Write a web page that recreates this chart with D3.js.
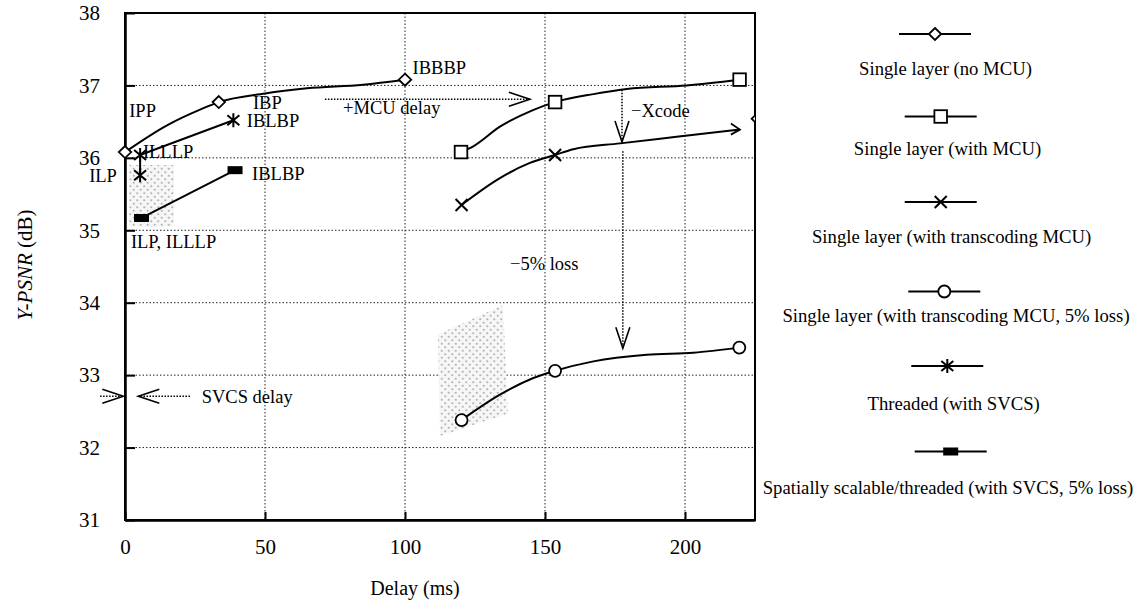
<!DOCTYPE html>
<html>
<head>
<meta charset="utf-8">
<script src="https://cdn.jsdelivr.net/npm/d3@7"></script>
<style>
  body { margin: 0; background: #fff; }
  svg text { font-family: "Liberation Serif", "Times New Roman", serif; fill: #000; }
</style>
</head>
<body>
<div id="chart"></div>
<script>
// delay (ms), Y-PSNR (dB)
var noMcuLine = [[0, 36.08], [15, 36.45], [27, 36.67], [33.5, 36.77], [50, 36.89], [65, 36.96], [85, 37.01], [100, 37.08]];
var noMcuMarks = [[0, 36.08], [33.5, 36.77], [100, 37.08]];
var strayDiamond = [[226, 36.54]];

var mcuLine = [[120, 36.08], [124.4, 36.16], [133.9, 36.43], [145.7, 36.66], [153.6, 36.77], [167.3, 36.88], [179.2, 36.95], [200.6, 37.0], [219.5, 37.08]];
var mcuMarks = [[120, 36.08], [153.6, 36.77], [219.5, 37.08]];

var xcodeLine = [[120.2, 35.35], [133.9, 35.72], [144.6, 35.93], [153.6, 36.04], [160.1, 36.12], [176.8, 36.2], [197, 36.29], [219.6, 36.39]];
var xcodeMarks = [[120.2, 35.35], [153.6, 36.04]];
var xcodeEnd = [[219.6, 36.39]];

var lossLine = [[120.2, 32.38], [133.9, 32.73], [144.6, 32.94], [153.6, 33.06], [167.3, 33.19], [186.3, 33.28], [203, 33.31], [219.4, 33.38]];
var lossMarks = [[120.2, 32.38], [153.6, 33.06], [219.4, 33.38]];

var threadLine = [[5.4, 35.76], [5.4, 36.04], [38.7, 36.52]];
var svcsLossLine = [[5.9, 35.17], [39.3, 35.83]];

var shadeLeft = [[1.5, 35.9], [17.5, 35.9], [17.5, 35.05], [1.5, 35.05]];
var shadeRight = [[111.8, 33.56], [135, 33.97], [136.8, 32.47], [112.5, 32.16]];

var xTicks = [0, 50, 100, 150, 200];
var yTicks = [31, 32, 33, 34, 35, 36, 37, 38];

var legendNames = [
  "Single layer (no MCU)",
  "Single layer (with MCU)",
  "Single layer (with transcoding MCU)",
  "Single layer (with transcoding MCU, 5% loss)",
  "Threaded (with SVCS)",
  "Spatially scalable/threaded (with SVCS, 5% loss)"
];
var legendShapes = ["diamond", "square", "cross", "circle", "asterisk", "bar"];

var notes = [
  ["IPP", 1.5, 36.66, "start"],
  ["IBP", 45.7, 36.76, "start"],
  ["IBBBP", 102.7, 37.25, "start"],
  ["IBLBP", 43.5, 36.51, "start"],
  ["ILLLP", 6.4, 36.09, "start"],
  ["ILP", -2.9, 35.75, "end"],
  ["IBLBP", 45.4, 35.79, "start"],
  ["ILP, ILLLP", 2.1, 34.84, "start"],
  ["+MCU delay", 77.9, 36.69, "start"],
  ["\u2212Xcode", 180.7, 36.66, "start"],
  ["\u22125% loss", 137.5, 34.54, "start"],
  ["SVCS delay", 27.4, 32.71, "start"]
];

var arrows = [
  [71.4, 36.81, 144.6, 36.81],
  [177.5, 36.94, 177.5, 36.22],
  [177.8, 36.09, 177.8, 33.37],
  [23.2, 32.71, 4.75, 32.71],
  [-8.9, 32.71, -0.6, 32.71]
];

var svgWidth = 1141;
var svgHeight = 602;
var margin = {top: 13, right: 386, bottom: 82, left: 125};
var width = svgWidth - margin.left - margin.right;
var height = svgHeight - margin.top - margin.bottom;

var svg = d3.select("#chart")
  .append("svg")
  .attr("width", svgWidth)
  .attr("height", svgHeight);

var defs = svg.append("defs");
var pat = defs.append("pattern")
  .attr("id", "dots")
  .attr("patternUnits", "userSpaceOnUse")
  .attr("width", 7)
  .attr("height", 7);
pat.append("rect").attr("width", 7).attr("height", 7).attr("fill", "#f6f6f6");
pat.append("circle").attr("cx", 1.75).attr("cy", 1.75).attr("r", 1.1).attr("fill", "#b4b4b4");
pat.append("circle").attr("cx", 5.25).attr("cy", 5.25).attr("r", 1.1).attr("fill", "#b4b4b4");

defs.append("clipPath").attr("id", "plotClip")
  .append("rect").attr("width", width).attr("height", height);

var chartGroup = svg.append("g")
  .attr("transform", `translate(${margin.left}, ${margin.top})`);

var x = d3.scaleLinear().domain([0, 225]).range([0, width]);
var y = d3.scaleLinear().domain([31, 38]).range([height, 0]);

// grid
chartGroup.selectAll(".vgrid")
  .data(xTicks.filter(d => d > 0))
  .enter()
  .append("line")
  .attr("x1", d => x(d)).attr("x2", d => x(d))
  .attr("y1", 0).attr("y2", height)
  .attr("stroke", "#222").attr("stroke-width", 1)
  .attr("stroke-dasharray", "1.5,2");

chartGroup.selectAll(".hgrid")
  .data(yTicks.filter(d => d > 31 && d < 38))
  .enter()
  .append("line")
  .attr("x1", 0).attr("x2", width)
  .attr("y1", d => y(d)).attr("y2", d => y(d))
  .attr("stroke", "#222").attr("stroke-width", 1)
  .attr("stroke-dasharray", "1.5,2");

// shaded regions
var poly = d3.line().x(d => x(d[0])).y(d => y(d[1]));
chartGroup.append("path").attr("d", poly(shadeLeft) + "Z").attr("fill", "url(#dots)");
chartGroup.append("path").attr("d", poly(shadeRight) + "Z").attr("fill", "url(#dots)");

// axes
var bottomAxis = d3.axisBottom(x).tickValues(xTicks).tickFormat(d3.format("d"))
  .tickSizeInner(-8).tickSizeOuter(0).tickPadding(19);
var leftAxis = d3.axisLeft(y).tickValues(yTicks).tickFormat(d3.format("d"))
  .tickSizeInner(-10).tickSizeOuter(0).tickPadding(25);

var xAxis = chartGroup.append("g")
  .attr("transform", `translate(0, ${height})`)
  .call(bottomAxis);
var yAxis = chartGroup.append("g").call(leftAxis);

[xAxis, yAxis].forEach(function(a) {
  a.attr("font-family", "Liberation Serif, Times New Roman, serif").attr("font-size", 21);
  a.select(".domain").attr("stroke", "#000").attr("stroke-width", 2.5);
  a.selectAll(".tick line").attr("stroke", "#000").attr("stroke-width", 2);
  a.selectAll(".tick text").attr("fill", "#000");
});

chartGroup.append("rect")
  .attr("width", width).attr("height", height)
  .attr("fill", "none").attr("stroke", "#000").attr("stroke-width", 2);

// markers
function marker(g, shape, cx, cy) {
  var m = g.append("g").attr("transform", `translate(${cx}, ${cy})`);
  if (shape === "diamond") {
    m.append("path").attr("d", "M0,-6L6.2,0L0,6L-6.2,0Z")
      .attr("fill", "#fff").attr("stroke", "#000").attr("stroke-width", 1.8);
  } else if (shape === "square") {
    m.append("rect").attr("x", -6.3).attr("y", -6.3).attr("width", 12.6).attr("height", 12.6)
      .attr("fill", "#fff").attr("stroke", "#000").attr("stroke-width", 1.8);
  } else if (shape === "circle") {
    m.append("circle").attr("r", 6)
      .attr("fill", "#fff").attr("stroke", "#000").attr("stroke-width", 1.8);
  } else if (shape === "cross") {
    m.append("path").attr("d", "M-6,-6L6,6M-6,6L6,-6")
      .attr("stroke", "#000").attr("stroke-width", 2);
  } else if (shape === "asterisk") {
    m.append("path").attr("d", "M-6,-5L6,5M-6,5L6,-5M0,-7L0,7")
      .attr("stroke", "#000").attr("stroke-width", 2);
  } else if (shape === "bar") {
    m.append("rect").attr("x", -7.5).attr("y", -4).attr("width", 15).attr("height", 8)
      .attr("fill", "#000");
  } else if (shape === "head") {
    m.append("path").attr("d", "M-9,-6L0,0L-9,5")
      .attr("fill", "none").attr("stroke", "#000").attr("stroke-width", 1.8);
  }
  return m;
}

var curve = d3.line()
  .x(d => x(d[0]))
  .y(d => y(d[1]))
  .curve(d3.curveMonotoneX);
var straight = d3.line()
  .x(d => x(d[0]))
  .y(d => y(d[1]));

var series = [
  [noMcuLine, noMcuMarks, "diamond", curve],
  [mcuLine, mcuMarks, "square", curve],
  [xcodeLine, xcodeMarks, "cross", curve],
  [lossLine, lossMarks, "circle", curve],
  [threadLine, threadLine, "asterisk", straight],
  [svcsLossLine, svcsLossLine, "bar", straight]
];

series.forEach(function(s) {
  chartGroup.append("path")
    .attr("d", s[3](s[0]))
    .attr("fill", "none")
    .attr("stroke", "#000")
    .attr("stroke-width", 2);
});
series.forEach(function(s) {
  s[1].forEach(function(p) { marker(chartGroup, s[2], x(p[0]), y(p[1])); });
});
xcodeEnd.forEach(function(p) { marker(chartGroup, "head", x(p[0]), y(p[1])); });

var clipped = chartGroup.append("g").attr("clip-path", "url(#plotClip)");
strayDiamond.forEach(function(p) { marker(clipped, "diamond", x(p[0]), y(p[1])); });

// dotted arrows
arrows.forEach(function(a) {
  var x1 = x(a[0]), y1 = y(a[1]), x2 = x(a[2]), y2 = y(a[3]);
  chartGroup.append("line")
    .attr("x1", x1).attr("y1", y1).attr("x2", x2).attr("y2", y2)
    .attr("stroke", "#000").attr("stroke-width", 1.5)
    .attr("stroke-dasharray", "1.5,1.5");
  var ang = Math.atan2(y2 - y1, x2 - x1) * 180 / Math.PI;
  chartGroup.append("path")
    .attr("transform", `translate(${x2}, ${y2}) rotate(${ang})`)
    .attr("d", "M-21,-7L0,0L-21,7")
    .attr("fill", "none").attr("stroke", "#000").attr("stroke-width", 1.6);
});

// notes
chartGroup.selectAll(".note")
  .data(notes)
  .enter()
  .append("text")
  .attr("x", d => x(d[1]))
  .attr("y", d => y(d[2]))
  .attr("dy", "0.35em")
  .attr("text-anchor", d => d[3])
  .attr("font-size", "18.5px")
  .text(d => d[0]);

// axis titles
svg.append("text")
  .attr("x", 415).attr("y", 588)
  .attr("dy", "0.35em")
  .attr("text-anchor", "middle")
  .attr("font-size", "20px")
  .text("Delay (ms)");

var yLabel = svg.append("text")
  .attr("transform", "translate(25, 265) rotate(-90)")
  .attr("dy", "0.35em")
  .attr("text-anchor", "middle")
  .attr("font-size", "21px");
yLabel.append("tspan").attr("font-style", "italic").text("Y-PSNR");
yLabel.append("tspan").text(" (dB)");

// legend
var legendLayout = [
  [935, 34, 945.5, 68],
  [940.7, 116.5, 947.5, 148],
  [940.7, 202, 951.6, 236.5],
  [944.3, 291.5, 956, 315.5],
  [947.3, 366, 953.7, 403],
  [950.7, 451.5, 948, 487]
];

var legend = svg.append("g");
legendNames.forEach(function(name, i) {
  var L = legendLayout[i];
  legend.append("line")
    .attr("x1", L[0] - 36).attr("x2", L[0] + 36)
    .attr("y1", L[1]).attr("y2", L[1])
    .attr("stroke", "#000").attr("stroke-width", 2);
  marker(legend, legendShapes[i], L[0], L[1]);
  legend.append("text")
    .attr("x", L[2]).attr("y", L[3])
    .attr("dy", "0.35em")
    .attr("text-anchor", "middle")
    .attr("font-size", "18.7px")
    .text(name);
});
</script>
</body>
</html>
